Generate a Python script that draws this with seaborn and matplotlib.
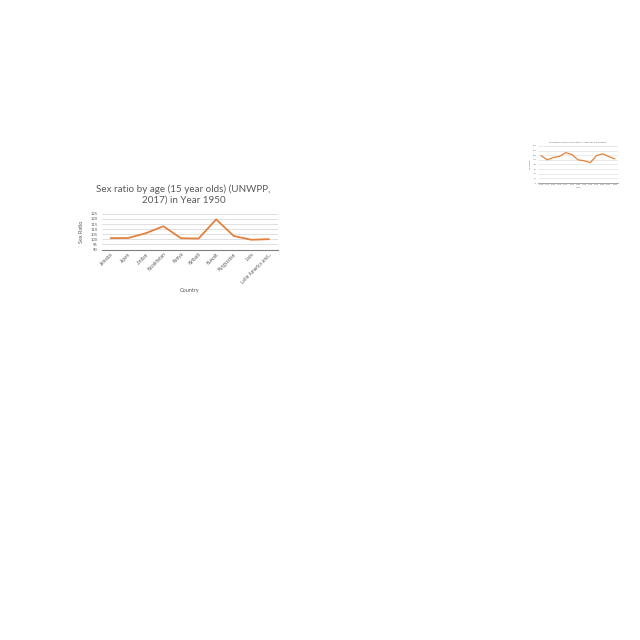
import matplotlib
matplotlib.use("Agg")
import matplotlib.pyplot as plt
import seaborn as sns
import pandas as pd

# main chart data
countries = ["Jamaica", "Japan", "Jordan", "Kazakhstan", "Kenya", "Kiribati",
             "Kuwait", "Kyrgyzstan", "Laos", "Latin America and..."]
sex_ratio = [101.2, 101.3, 106.0, 112.8, 101.1, 100.8, 119.5, 103.3, 99.6, 100.2]
y_ticks = [90, 95, 100, 105, 110, 115, 120, 125]

# small inset chart (top right) data
years = [1950, 1955, 1960, 1965, 1970, 1975, 1980, 1985, 1990, 1995, 2000, 2005, 2010]
small_ratio = [118, 100, 110, 115, 131, 123, 100, 96, 88, 118, 126, 114, 104]
small_ticks = [0, 20, 40, 60, 80, 100, 120, 140, 160]

orange = "#E3813D"
grid_c = "#DADADA"
txt_c = "#595959"

sns.set_style("white")
plt.rcParams['font.family'] = ['Lato', 'DejaVu Sans']

fig = plt.figure(figsize=(6.4, 6.4), dpi=100)

df = pd.DataFrame({"Country": countries, "Sex Ratio": sex_ratio})
ax = fig.add_axes([0.159, 0.610, 0.275, 0.056])
sns.lineplot(data=df, x="Country", y="Sex Ratio", sort=False, color=orange,
             linewidth=1.3, ax=ax)
ax.set_ylim(90, 125)
ax.set_yticks(y_ticks)
ax.set_xlim(-0.5, len(countries) - 0.5)
ax.grid(axis="y", color=grid_c, linewidth=0.6)
ax.set_axisbelow(True)
for s in ["top", "right", "left"]:
    ax.spines[s].set_visible(False)
ax.spines["bottom"].set_color("#7F7F7F")
ax.spines["bottom"].set_linewidth(0.8)
ax.tick_params(axis="y", length=0, labelsize=3.0, colors=txt_c, pad=3)
ax.tick_params(axis="x", length=0, labelsize=3.4, colors=txt_c, pad=1.5)
plt.setp(ax.get_xticklabels(), rotation=45, ha="right", rotation_mode="anchor")
ax.set_xlabel("Country", fontsize=4.0, color=txt_c, labelpad=3)
ax.set_ylabel("Sex Ratio", fontsize=4.0, color=txt_c, labelpad=5)
ax.set_title("Sex ratio by age (15 year olds) (UNWPP,\n2017) in Year 1950",
             fontsize=7.1, color=txt_c, pad=8, linespacing=1.2, x=0.465)

# small chart in the top-right corner
df2 = pd.DataFrame({"Year": [str(y) for y in years], "Ratio": small_ratio})
ax2 = fig.add_axes([0.8406, 0.714, 0.125, 0.058])
sns.lineplot(data=df2, x="Year", y="Ratio", sort=False, color=orange,
             linewidth=0.9, ax=ax2)
ax2.set_ylim(0, 160)
ax2.set_yticks(small_ticks)
ax2.set_xlim(-0.5, len(years) - 0.5)
ax2.grid(axis="y", color=grid_c, linewidth=0.4)
ax2.set_axisbelow(True)
for s in ["top", "right", "left"]:
    ax2.spines[s].set_visible(False)
ax2.spines["bottom"].set_color("#7F7F7F")
ax2.spines["bottom"].set_linewidth(0.5)
ax2.tick_params(axis="both", length=0, labelsize=1.5, colors=txt_c, pad=1)
ax2.set_xlabel("Year", fontsize=1.6, color=txt_c, labelpad=1)
ax2.set_ylabel("Sex Ratio", fontsize=1.6, color=txt_c, labelpad=1)
ax2.set_title("Sex ratio by age (15 year olds) (UNWPP, 2017) in Jamaica",
              fontsize=1.6, color=txt_c, pad=2)

fig.savefig("out.png", dpi=100)
